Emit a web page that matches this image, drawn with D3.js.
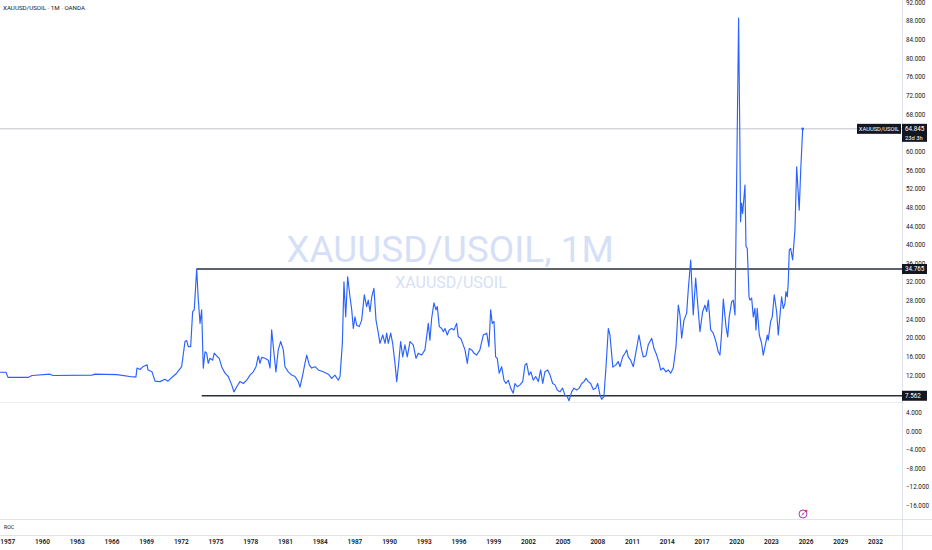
<!DOCTYPE html>
<html>
<head>
<meta charset="utf-8">
<script src="https://cdn.jsdelivr.net/npm/d3@7"></script>
<style>
  html, body { margin: 0; padding: 0; background: #ffffff; }
  svg { display: block; }
  text { font-family: Roboto, "Liberation Sans", Arial, sans-serif; }
</style>
</head>
<body>
<svg id="chart" width="932" height="550"></svg>
<script>
// ---- DATA ----
const symbol = "XAUUSD/USOIL";
const title = "XAUUSD/USOIL · 1M · OANDA";
const watermark = "XAUUSD/USOIL, 1M";
const lastValue = 64.845;
const countdown = "23d 3h";
const levels = [34.765, 7.562];
const levelStarts = [1973.37, 1973.8];
const yearTicks = d3.range(1957, 2033, 3);
const priceTicks = d3.range(-16, 93, 4);

const dates = [1956.37,1956.89,1957.06,1958.79,1959.14,1960.69,1960.95,1964.32,1964.58,1966.48,1967.87,1968.12,1968.21,1968.47,1968.73,1969.08,1969.16,1969.51,1969.77,1970.20,1970.63,1970.89,1971.32,1971.64,1972.07,1972.36,1972.51,1972.64,1972.85,1973.02,1973.16,1973.37,1973.51,1973.66,1973.80,1973.94,1974.09,1974.23,1974.37,1974.52,1974.75,1974.89,1975.10,1975.32,1975.53,1975.82,1976.10,1976.40,1976.59,1976.83,1977.11,1977.40,1977.69,1977.98,1978.26,1978.50,1978.70,1978.84,1978.99,1979.27,1979.56,1979.71,1979.85,1980.05,1980.22,1980.42,1980.63,1980.86,1981.00,1981.29,1981.58,1981.87,1982.15,1982.30,1982.53,1982.73,1982.88,1983.10,1983.31,1983.60,1983.88,1984.31,1984.75,1985.04,1985.32,1985.61,1985.76,1985.96,1986.10,1986.25,1986.42,1986.62,1986.77,1986.91,1987.05,1987.20,1987.42,1987.63,1987.86,1988.06,1988.20,1988.35,1988.50,1988.69,1988.87,1989.07,1989.21,1989.45,1989.65,1989.79,1989.93,1990.14,1990.31,1990.51,1990.66,1990.80,1991.00,1991.18,1991.37,1991.57,1991.81,1992.09,1992.33,1992.52,1992.82,1993.10,1993.39,1993.53,1993.68,1993.88,1994.05,1994.17,1994.34,1994.55,1994.69,1994.83,1995.03,1995.20,1995.41,1995.61,1995.84,1995.98,1996.19,1996.36,1996.56,1996.76,1996.93,1997.14,1997.34,1997.57,1997.85,1998.14,1998.44,1998.63,1998.78,1998.92,1999.07,1999.21,1999.35,1999.52,1999.73,1999.93,2000.10,2000.30,2000.51,2000.73,2000.88,2001.08,2001.31,2001.55,2001.75,2001.89,2002.09,2002.26,2002.46,2002.67,2002.90,2003.10,2003.28,2003.47,2003.71,2003.91,2004.14,2004.34,2004.54,2004.77,2005.00,2005.20,2005.40,2005.55,2005.78,2005.98,2006.21,2006.44,2006.65,2006.84,2007.02,2007.22,2007.42,2007.65,2007.86,2008.03,2008.23,2008.37,2008.57,2008.75,2008.95,2009.09,2009.34,2009.60,2009.80,2009.96,2010.19,2010.39,2010.54,2010.67,2010.88,2011.11,2011.34,2011.60,2011.83,2011.97,2012.20,2012.40,2012.70,2012.90,2013.13,2013.35,2013.47,2013.70,2013.93,2014.13,2014.34,2014.56,2014.80,2015.00,2015.14,2015.29,2015.49,2015.72,2015.86,2016.07,2016.29,2016.50,2016.67,2016.87,2017.10,2017.30,2017.45,2017.59,2017.80,2018.02,2018.25,2018.45,2018.60,2018.75,2018.89,2019.12,2019.27,2019.40,2019.61,2019.75,2019.90,2020.21,2020.31,2020.38,2020.47,2020.56,2020.76,2020.85,2020.96,2021.05,2021.11,2021.19,2021.34,2021.48,2021.62,2021.71,2021.82,2022.00,2022.20,2022.34,2022.55,2022.69,2022.77,2022.98,2023.12,2023.29,2023.50,2023.64,2023.79,2023.93,2024.07,2024.22,2024.30,2024.42,2024.50,2024.59,2024.71,2024.88,2025.08,2025.23,2025.45,2025.58,2025.75];

const ratio = [12.6,12.6,11.5,11.5,11.9,12.2,11.9,12.0,12.2,12.1,11.6,11.6,13.5,13.2,13.8,14.2,13.1,12.7,10.7,10.6,11.1,10.7,11.7,12.4,13.8,19.2,19.4,18.1,18.1,25.6,26.0,34.77,28.1,23.1,26.0,13.5,17.0,16.7,14.5,15.6,15.2,16.7,16.1,15.6,13.8,12.4,11.7,9.9,8.4,9.5,10.6,10.2,10.9,12.0,12.7,13.8,16.1,14.5,15.8,15.6,15.2,13.5,21.7,16.7,12.7,17.4,19.2,17.4,13.8,12.7,12.0,11.7,10.6,9.4,12.0,14.5,16.3,14.2,13.5,13.8,13.1,12.7,12.2,11.3,12.0,10.9,11.7,18.8,32.0,24.5,33.1,28.8,26.0,22.0,24.5,22.7,22.4,23.8,29.2,26.7,28.1,25.6,28.8,30.6,23.8,21.0,18.8,20.6,18.8,21.0,18.8,21.0,18.8,14.5,10.6,13.8,19.2,15.9,18.5,15.9,19.2,18.5,15.6,16.7,16.3,17.4,23.1,19.5,24.2,27.5,26.0,26.7,22.4,22.0,21.3,22.0,20.6,21.7,22.0,21.7,23.1,20.2,19.9,18.8,17.4,14.5,17.7,17.4,16.7,16.3,17.4,20.6,21.0,18.1,26.0,23.1,23.5,15.9,15.6,12.4,13.8,10.9,10.2,10.9,9.2,8.1,10.2,9.5,9.9,10.6,14.2,14.5,12.0,12.7,10.9,11.7,10.6,13.1,10.2,12.7,13.1,12.0,10.2,9.9,8.8,8.4,9.2,7.7,7.4,6.5,8.4,9.2,8.8,9.2,10.2,10.6,11.3,10.6,10.2,8.9,9.2,10.2,7.7,6.8,7.4,13.8,22.0,20.6,13.7,14.2,14.9,13.8,15.9,16.7,17.4,15.9,15.2,13.8,17.0,20.6,17.4,15.9,16.1,18.5,19.9,17.7,16.3,14.5,13.1,13.5,12.7,13.1,12.4,13.5,18.1,27.0,24.9,19.9,23.8,25.3,30.3,36.7,24.9,32.8,27.4,21.3,25.6,27.0,25.6,28.1,21.7,21.0,19.2,17.0,16.3,21.3,28.3,22.4,20.2,24.5,27.7,28.1,24.9,88.6,64.6,44.9,48.9,46.7,52.8,39.6,39.2,33.1,28.8,28.1,28.5,24.5,26.3,21.7,26.3,20.6,18.8,16.3,18.8,20.6,19.5,23.5,24.5,29.2,25.6,20.6,24.9,28.8,26.3,27.4,29.9,28.8,31.7,38.8,39.2,36.7,43.1,56.7,47.4,56.0,64.845];

// ---- LAYOUT ----
const W = 932, H = 550;
const axisX = 902;          // right price-scale border
const paneBottom = 519;     // main pane bottom
const rocBottom = 535;      // ROC pane bottom

const svg = d3.select("#chart");
const x = d3.scaleLinear().domain([1960, 2032]).range([42, 875]);
const y = d3.scaleLinear().domain([0, 92]).range([431, 2.3]);

const series = dates.map((d, i) => ({ t: d, v: ratio[i] }));

const defs = svg.append("defs");
defs.append("clipPath").attr("id", "mainClip")
  .append("rect").attr("x", 0).attr("y", 0).attr("width", axisX).attr("height", paneBottom);

// pane separators
svg.append("line").attr("x1", 0).attr("x2", W).attr("y1", paneBottom + 0.5).attr("y2", paneBottom + 0.5)
  .attr("stroke", "#e0e3eb").attr("stroke-width", 1);
svg.append("line").attr("x1", 0).attr("x2", W).attr("y1", rocBottom + 0.5).attr("y2", rocBottom + 0.5)
  .attr("stroke", "#e0e3eb").attr("stroke-width", 1);
svg.append("line").attr("x1", axisX + 0.5).attr("x2", axisX + 0.5).attr("y1", 0).attr("y2", H)
  .attr("stroke", "#e0e3eb").attr("stroke-width", 1);

// faint line
svg.append("line").attr("x1", 0).attr("x2", axisX).attr("y1", 402.5).attr("y2", 402.5)
  .attr("stroke", "#eceef2").attr("stroke-width", 1);

// watermark
svg.append("text").attr("x", 450).attr("y", 262).attr("text-anchor", "middle")
  .attr("font-size", 37).attr("fill", "#d5dff6").text(watermark);
svg.append("text").attr("x", 451).attr("y", 288).attr("text-anchor", "middle")
  .attr("font-size", 16).attr("fill", "#d5dff6").text(symbol);

// title
svg.append("text").attr("x", 3).attr("y", 10).attr("font-size", 6.2).attr("fill", "#131722")
  .text(title);

const main = svg.append("g").attr("clip-path", "url(#mainClip)");

// last price line
main.append("line").attr("x1", 0).attr("x2", axisX).attr("y1", y(lastValue)).attr("y2", y(lastValue))
  .attr("stroke", "#b2b5be").attr("stroke-width", 0.8);

// horizontal levels
levels.forEach((lv, i) => {
  main.append("line").attr("x1", x(levelStarts[i])).attr("x2", axisX)
    .attr("y1", y(lv)).attr("y2", y(lv))
    .attr("stroke", "#2a2e39").attr("stroke-width", 1.4);
});

// series line
const line = d3.line().x(d => x(d.t)).y(d => y(d.v));
main.append("path").datum(series).attr("d", line)
  .attr("fill", "none").attr("stroke", "#2962ff").attr("stroke-width", 1.15)
  .attr("stroke-linejoin", "round");
const last = series[series.length - 1];
main.append("circle").attr("cx", x(last.t)).attr("cy", y(last.v)).attr("r", 1.4).attr("fill", "#2962ff");

// price axis (ticks hidden behind the last-price box are dropped; the one under a level box is half covered)
const hidden = priceTicks.filter(t => Math.abs(y(t) - y(lastValue)) < 12 && y(t) > y(lastValue) - 6);
const yAxis = d3.axisRight(y).tickValues(priceTicks.filter(t => !hidden.includes(t)))
  .tickSize(0).tickPadding(4).tickFormat(d3.format(".3f"));
const gy = svg.append("g").attr("transform", `translate(${axisX},0)`).call(yAxis);
gy.select(".domain").remove();
gy.selectAll("text").attr("font-size", 6.3).attr("fill", "#131722")
  .attr("font-family", "Roboto, 'Liberation Sans', Arial, sans-serif");

// time axis
const xAxis = d3.axisBottom(x).tickValues(yearTicks).tickSize(0).tickPadding(0).tickFormat(d3.format("d"));
const gx = svg.append("g").attr("transform", `translate(0,${rocBottom + 4})`).call(xAxis);
gx.select(".domain").remove();
gx.selectAll("text").attr("font-size", 6.5).attr("font-weight", 600).attr("fill", "#131722")
  .attr("font-family", "Roboto, 'Liberation Sans', Arial, sans-serif");

// ROC pane label
svg.append("text").attr("x", 4).attr("y", 529).attr("font-size", 5.2).attr("fill", "#131722").text("ROC");

// level labels on axis
function axisLabel(v, txt, sub) {
  const yy = y(v);
  const h = sub ? 18 : 10;
  svg.append("rect").attr("x", axisX).attr("y", yy - 5).attr("width", 25).attr("height", h).attr("fill", "#131722");
  svg.append("text").attr("x", axisX + 3).attr("y", yy + 2.2).attr("font-size", 6.3).attr("fill", "#ffffff").text(txt);
  if (sub) svg.append("text").attr("x", axisX + 3).attr("y", yy + 10.8).attr("font-size", 5.8).attr("fill", "#ffffff").text(sub);
}
levels.forEach(lv => axisLabel(lv, d3.format(".3f")(lv)));
axisLabel(lastValue, d3.format(".3f")(lastValue), countdown);

// symbol label left of the axis
const sy = y(lastValue);
svg.append("rect").attr("x", 857).attr("y", sy - 5).attr("width", 44).attr("height", 10).attr("fill", "#131722");
svg.append("text").attr("x", 879).attr("y", sy + 2.2).attr("text-anchor", "middle").attr("font-size", 5.8)
  .attr("fill", "#ffffff").text(symbol);

// small icon in ROC area
const ic = svg.append("g").attr("transform", "translate(803,514)");
ic.append("circle").attr("r", 4).attr("fill", "none").attr("stroke", "#9c27b0").attr("stroke-width", 0.9);
ic.append("path").attr("d", "M-1.2,1.6 L1.2,-1.6 M-0.2,-0.6 L0.6,0.4").attr("stroke", "#9c27b0").attr("stroke-width", 0.8);
ic.append("circle").attr("cx", 3).attr("cy", -3).attr("r", 1.3).attr("fill", "#f23645");
</script>
</body>
</html>
